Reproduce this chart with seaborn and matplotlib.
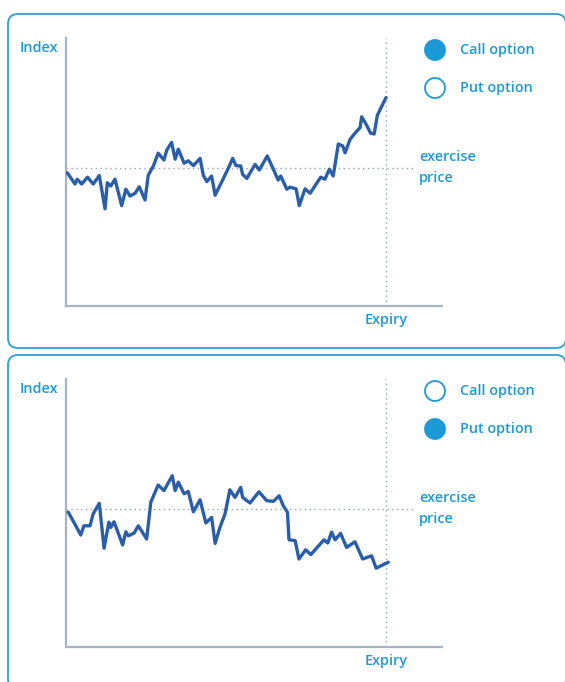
import matplotlib
matplotlib.use("Agg")
import matplotlib.pyplot as plt
from matplotlib.patches import Circle, FancyBboxPatch
import seaborn as sns
import pandas as pd

# Index paths (trading day, index level; exercise price = 100)
call_days = [0.4, 2.8, 3.5, 4.9, 6.7, 8.5, 10.4, 12.2, 12.9, 14.0, 15.3, 17.4, 18.7, 20.0,
             21.6, 22.9, 24.7, 25.7, 27.3, 28.8, 30.6, 31.5, 33.0, 34.1, 35.1, 36.9, 38.2,
             39.8, 41.9, 42.9, 44.0, 45.5, 46.6, 48.7, 50.7, 52.1, 53.1, 54.6, 55.2, 56.5,
             59.1, 60.4, 62.9, 64.8, 66.3, 67.1, 69.0, 70.0, 71.9, 72.9, 74.7, 76.3, 78.1,
             79.6, 80.9, 82.3, 83.5, 85.1, 86.5, 87.2, 88.8, 90.3, 91.9, 92.4, 93.8, 95.2,
             96.3, 97.3, 100.0]
call_index = [98.8, 96.0, 97.2, 96.0, 97.7, 96.0, 98.1, 89.8, 96.3, 95.5, 97.2, 90.6, 94.7, 93.0,
              93.7, 95.3, 92.0, 98.2, 100.5, 103.7, 102.0, 104.5, 106.4, 102.2, 104.7, 101.2, 101.8,
              100.6, 102.4, 98.2, 96.6, 98.0, 93.2, 96.6, 99.9, 102.4, 100.6, 100.5, 98.4, 97.4,
              100.9, 99.5, 103.0, 99.7, 97.0, 98.0, 94.7, 95.2, 94.8, 90.6, 94.8, 93.7, 95.9,
              97.7, 97.2, 99.7, 98.0, 106.0, 105.5, 103.8, 107.2, 108.7, 110.1, 112.8, 110.9, 108.7,
              108.5, 113.2, 117.6]

put_days = [0.7, 2.8, 4.6, 5.6, 7.5, 8.5, 10.4, 11.9, 13.4, 14.0, 15.0, 17.7, 18.7, 19.5,
            21.3, 22.6, 25.2, 26.5, 28.8, 30.6, 33.2, 34.1, 35.1, 36.9, 38.2, 39.8, 41.9,
            43.7, 45.5, 46.6, 48.1, 49.7, 51.2, 52.8, 54.6, 55.2, 57.5, 60.3, 62.7, 64.8,
            66.6, 67.9, 69.2, 69.7, 71.6, 72.8, 74.9, 76.5, 80.6, 81.8, 83.0, 84.1, 85.8,
            87.7, 90.3, 92.7, 95.5, 96.9, 100.7]
put_index = [99.2, 96.2, 93.5, 95.8, 95.8, 98.8, 101.4, 90.2, 96.7, 95.4, 96.8, 91.0, 94.3, 93.3,
             94.0, 95.8, 92.5, 101.7, 106.0, 104.6, 108.3, 104.6, 106.7, 103.8, 104.4, 99.3, 102.3,
             96.5, 97.9, 91.4, 95.4, 98.8, 104.8, 102.9, 105.4, 102.9, 101.5, 104.3, 102.1, 101.9,
             103.3, 100.8, 99.2, 92.3, 92.1, 87.5, 89.8, 88.6, 92.3, 91.5, 94.2, 92.3, 93.9,
             90.4, 91.8, 87.5, 88.3, 85.2, 86.7]

exercise_price = 100
expiry_day = 100
legend_labels = ["Call option", "Put option"]
panels = [
    {"days": call_days, "index": call_index, "filled": "Call option", "top": 14},
    {"days": put_days, "index": put_index, "filled": "Put option", "top": 355},
]

W, H = 565, 682
line_blue = "#2a5ea8"
text_blue = "#1c9ad6"
border_blue = "#2b9fd9"
axis_grey = "#a6b3c1"
dot_grey = "#8fa4ba"

sns.set_style("white")
plt.rcParams["font.family"] = ["Open Sans", "DejaVu Sans"]

fig = plt.figure(figsize=(W / 100, H / 100), dpi=100)


def inch(x, y):
    # pixel position (from top-left) -> inches for dpi_scale_trans
    return x / 100, (H - y) / 100


def frac(x, y):
    return x / W, 1 - y / H


for p in panels:
    off = p["top"] - 14

    # rounded panel frame
    x0, y0 = inch(8, p["top"] + 334)
    box = FancyBboxPatch((x0, y0), 5.58, 3.34,
                         boxstyle="round,pad=0,rounding_size=0.1",
                         transform=fig.dpi_scale_trans, fill=False,
                         edgecolor=border_blue, linewidth=1.3)
    fig.add_artist(box)

    # plotting area: x 66..442 px, y 38..306 px (+offset)
    ax = fig.add_axes([66 / W, 1 - (306 + off) / H, 376 / W, 268 / H])
    df = pd.DataFrame({"day": p["days"], "index": p["index"]})
    sns.lineplot(data=df, x="day", y="index", ax=ax, color=line_blue,
                 linewidth=2.4, sort=False, zorder=3)
    ax.set_xlim(0, 117.5)
    ax.set_ylim(65.5, 132.5)
    ax.set_xticks([])
    ax.set_yticks([])
    ax.set_xlabel("")
    ax.set_ylabel("")
    ax.patch.set_alpha(0)
    for s in ["top", "right"]:
        ax.spines[s].set_visible(False)
    for s in ["left", "bottom"]:
        ax.spines[s].set_color(axis_grey)
        ax.spines[s].set_linewidth(1.6)

    # exercise price and expiry guides
    ax.plot([0, 109], [exercise_price, exercise_price], ls=(0, (1, 2.5)),
            color=dot_grey, lw=1.0, clip_on=False, zorder=2)
    ax.axvline(expiry_day, ls=(0, (1, 2.5)), color=dot_grey, lw=1.0, zorder=2)

    # labels
    kw = dict(color=text_blue, fontsize=10.4, fontweight="semibold")
    fig.text(*frac(20, 48 + off), "Index", ha="left", va="center", **kw)
    fig.text(*frac(386, 320 + off), "Expiry", ha="center", va="center", **kw)
    fig.text(*frac(419, 157 + off), "exercise", ha="left", va="center", **kw)
    fig.text(*frac(419, 178 + off), "price", ha="left", va="center", **kw)

    # legend markers
    for i, lab in enumerate(legend_labels):
        cy = 50 + 38 * i + off
        filled = lab == p["filled"]
        c = Circle(inch(435, cy), 0.1, transform=fig.dpi_scale_trans,
                   facecolor=text_blue if filled else "white",
                   edgecolor=text_blue, linewidth=1.3)
        fig.add_artist(c)
        fig.text(*frac(460, cy), lab, ha="left", va="center", **kw)

fig.savefig("out.png", dpi=100)
